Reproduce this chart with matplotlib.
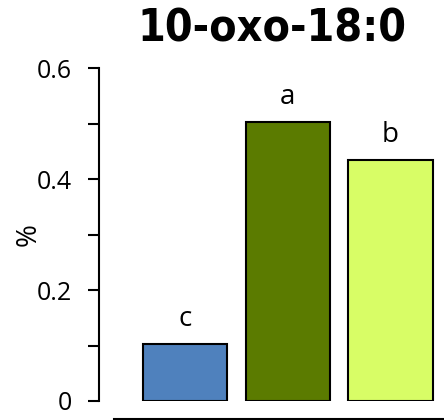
import matplotlib.pyplot as plt
from matplotlib.ticker import MultipleLocator

# datos
grupos = ["g1", "g2", "g3"]
valores = [0.103, 0.503, 0.434]
letras = ["c", "a", "b"]
colores = ["#4f81bd", "#5b7b00", "#d8fd66"]

plt.rcParams["font.family"] = ["Open Sans", "DejaVu Sans"]

fig = plt.figure(figsize=(4.44, 4.2), dpi=100)
ax = fig.add_axes([114 / 444, 19 / 420, 330 / 444, 333 / 420])

pos = list(range(len(grupos)))
barras = ax.bar(pos, valores, width=0.82, color=colores,
                edgecolor="black", linewidth=1.5)

for b, letra in zip(barras, letras):
    ax.annotate(letra, (b.get_x() + b.get_width() / 2, b.get_height()),
                xytext=(0, 8), textcoords="offset points",
                ha="center", va="bottom", fontsize=20)

ax.set_xlim(-0.69, 2.52)
ax.set_ylim(0, 0.6)
ax.set_xticks([])
ax.set_yticks([0, 0.2, 0.4, 0.6])
ax.set_yticklabels(["0", "0.2", "0.4", "0.6"])
ax.yaxis.set_minor_locator(MultipleLocator(0.1))
ax.tick_params(axis="y", which="both", length=8, width=1.5,
               labelsize=18, pad=11)

ax.spines["top"].set_visible(False)
ax.spines["right"].set_visible(False)
ax.spines["left"].set_position(("outward", 11))
ax.spines["left"].set_bounds(0, 0.6)
ax.spines["bottom"].set_position(("outward", 13))
for s in ["left", "bottom"]:
    ax.spines[s].set_linewidth(1.5)

ax.set_ylabel("%", fontsize=20, va="center")
ax.yaxis.set_label_coords(-0.258, 0.5)

fig.text(272 / 444, 1 - 42 / 420, "10-oxo-18:0", ha="center", va="baseline",
         fontsize=32, fontweight="bold", family="DejaVu Sans",
         fontstretch="condensed")

fig.savefig("out.png", dpi=100)
